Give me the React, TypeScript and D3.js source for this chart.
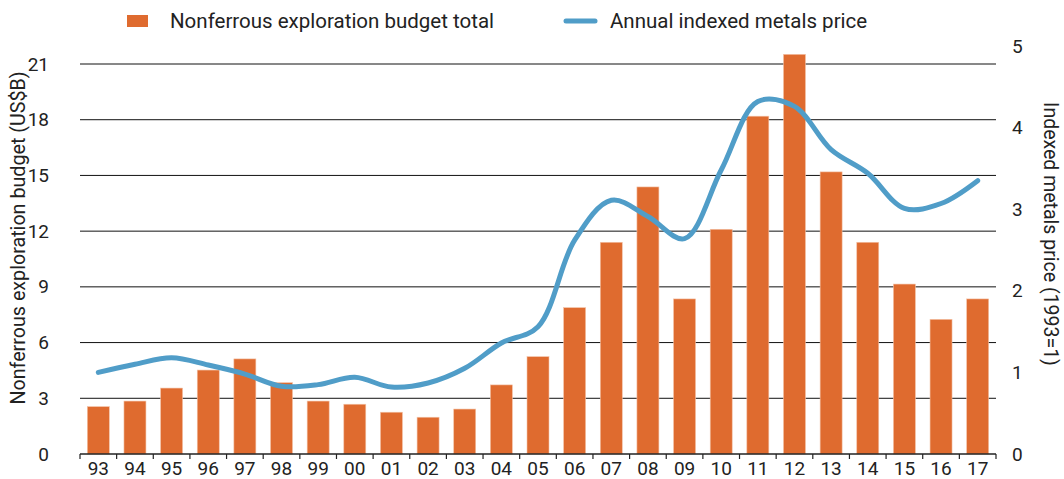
import React from "react";
import * as d3 from "d3";

const WIDTH = 1064;
const HEIGHT = 479;
const MARGIN = { top: 64, right: 68, bottom: 25, left: 80 };
const FONT = "Roboto, 'Noto Sans', sans-serif";

const years = [
  "93", "94", "95", "96", "97", "98", "99", "00", "01", "02", "03", "04", "05",
  "06", "07", "08", "09", "10", "11", "12", "13", "14", "15", "16", "17",
];
// Nonferrous exploration budget, US$B
const budget = [
  2.55, 2.85, 3.55, 4.52, 5.12, 3.84, 2.85, 2.68, 2.25, 1.98, 2.42, 3.72, 5.24,
  7.88, 11.4, 14.38, 8.35, 12.1, 18.19, 21.52, 15.19, 11.4, 9.15, 7.25, 8.35,
];
// Annual indexed metals price (1993 = 1)
const price = [
  1.0, 1.1, 1.18, 1.09, 0.98, 0.83, 0.85, 0.94, 0.82, 0.87, 1.05, 1.36, 1.56,
  2.62, 3.11, 2.91, 2.64, 3.48, 4.32, 4.26, 3.73, 3.44, 3.01, 3.07, 3.35,
];
const leftTicks = [0, 3, 6, 9, 12, 15, 18, 21];
const rightTicks = [0, 1, 2, 3, 4, 5];

const BAR_COLOR = "#df6b2f";
const LINE_COLOR = "#509dc8";

export default function App() {
  const innerW = WIDTH - MARGIN.left - MARGIN.right;
  const y0 = 454;

  const x = d3
    .scaleBand<string>()
    .domain(years)
    .range([MARGIN.left, MARGIN.left + innerW])
    .paddingInner(0.4)
    .paddingOuter(0.2);

  const yLeft = d3.scaleLinear().domain([0, 21]).range([y0, MARGIN.top]);
  const yRight = d3.scaleLinear().domain([0, 5]).range([y0, y0 - 5 * 81.6]);

  const line = d3
    .line<number>()
    .x((_, i) => (x(years[i]) as number) + x.bandwidth() / 2)
    .y((d) => yRight(d))
    .curve(d3.curveCatmullRom.alpha(0.5));

  const step = x.step();
  const boundaries = d3.range(years.length + 1).map((i) => MARGIN.left + i * step);
  const right = MARGIN.left + innerW;

  return (
    <svg
      width={WIDTH}
      height={HEIGHT}
      style={{ position: "absolute", left: 0, top: 0, background: "#fff" }}
      fontFamily={FONT}
    >
      {/* legend */}
      <rect x={127} y={15} width={21} height={12} fill={BAR_COLOR} />
      <text x={170} y={21} dominantBaseline="central" fontSize={20.5} fill="#222">
        Nonferrous exploration budget total
      </text>
      <line x1={566} x2={595} y1={21} y2={21} stroke={LINE_COLOR} strokeWidth={5} strokeLinecap="round" />
      <text x={610} y={21} dominantBaseline="central" fontSize={20.5} fill="#222">
        Annual indexed metals price
      </text>

      {/* gridlines */}
      {leftTicks.slice(1).map((t) => (
        <line key={t} x1={MARGIN.left} x2={right} y1={yLeft(t)} y2={yLeft(t)} stroke="#111" strokeWidth={1} />
      ))}

      {/* bars */}
      {budget.map((v, i) => (
        <rect
          key={years[i]}
          x={x(years[i])}
          y={yLeft(v)}
          width={x.bandwidth()}
          height={y0 - yLeft(v)}
          fill={BAR_COLOR}
          stroke="#f3c2a6"
          strokeWidth={0.6}
        />
      ))}

      {/* price line */}
      <path d={line(price) || ""} fill="none" stroke={LINE_COLOR} strokeWidth={5} strokeLinecap="round" />

      {/* x axis */}
      <line x1={MARGIN.left} x2={right} y1={y0} y2={y0} stroke="#222" strokeWidth={1.5} />
      {boundaries.map((b, i) => (
        <line key={i} x1={b} x2={b} y1={y0} y2={y0 + 5} stroke="#222" strokeWidth={1.2} />
      ))}
      {years.map((yr) => (
        <text
          key={yr}
          x={(x(yr) as number) + x.bandwidth() / 2}
          y={468}
          textAnchor="middle"
          dominantBaseline="central"
          fontSize={19}
          fill="#222"
        >
          {yr}
        </text>
      ))}

      {/* left axis labels */}
      {leftTicks.map((t) => (
        <text key={t} x={49} y={yLeft(t)} textAnchor="end" dominantBaseline="central" fontSize={19} fill="#222">
          {t}
        </text>
      ))}
      <text
        transform={`translate(18, 238) rotate(-90)`}
        textAnchor="middle"
        dominantBaseline="central"
        fontSize={19.7}
        fill="#222"
      >
        Nonferrous exploration budget (US$B)
      </text>

      {/* right axis labels */}
      {rightTicks.map((t) => (
        <text key={t} x={1012} y={yRight(t)} textAnchor="start" dominantBaseline="central" fontSize={19} fill="#222">
          {t}
        </text>
      ))}
      <text
        transform={`translate(1050, 234) rotate(90)`}
        textAnchor="middle"
        dominantBaseline="central"
        fontSize={19.5}
        fill="#222"
      >
        Indexed metals price (1993=1)
      </text>
    </svg>
  );
}
